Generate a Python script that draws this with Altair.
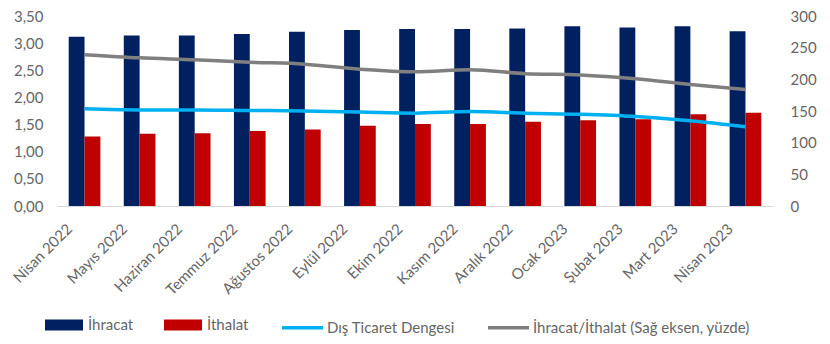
import altair as alt
import pandas as pd

months = ["Nisan 2022", "Mayıs 2022", "Haziran 2022", "Temmuz 2022", "Ağustos 2022",
          "Eylül 2022", "Ekim 2022", "Kasım 2022", "Aralık 2022", "Ocak 2023",
          "Şubat 2023", "Mart 2023", "Nisan 2023"]
ihracat = [3.12, 3.14, 3.14, 3.17, 3.21, 3.24, 3.26, 3.26, 3.27, 3.31, 3.29, 3.31, 3.22]
ithalat = [1.28, 1.33, 1.34, 1.38, 1.41, 1.48, 1.51, 1.51, 1.55, 1.58, 1.60, 1.69, 1.72]
denge = [1.79, 1.77, 1.77, 1.76, 1.75, 1.73, 1.71, 1.74, 1.71, 1.69, 1.65, 1.57, 1.46]
oran = [239, 234, 231, 227, 224, 216, 212, 215, 209, 207, 201, 192, 184]
left_ticks = [0, 0.5, 1, 1.5, 2, 2.5, 3, 3.5]
right_ticks = [0, 50, 100, 150, 200, 250, 300]

bar_names = ["İhracat", "İthalat"]
line_names = ["Dış Ticaret Dengesi", "İhracat/İthalat (Sağ eksen, yüzde)"]

bar_df = pd.DataFrame(
    [{"month": m, "series": bar_names[0], "value": v} for m, v in zip(months, ihracat)]
    + [{"month": m, "series": bar_names[1], "value": v} for m, v in zip(months, ithalat)]
)
denge_df = pd.DataFrame({"month": months, "value": denge, "series": line_names[0]})
oran_df = pd.DataFrame({"month": months, "value": oran, "series": line_names[1]})

FONT = "Lato"
TXT = "#666666"

x_axis = alt.Axis(labelAngle=-45, labelAlign="right", labelBaseline="middle",
                  labelPadding=20, labelOffset=-15, ticks=False, domainColor="#d9d9d9",
                  grid=False, labelOverlap=False)
x_scale = alt.Scale(paddingInner=0.425, paddingOuter=0.2125)

left_axis = alt.Axis(values=left_ticks, tickCount=8,
                     labelExpr="replace(format(datum.value, '.2f'), '.', ',')",
                     domain=False, ticks=False, grid=False, labelPadding=14,
                     labelOverlap=False)
left_scale = alt.Scale(domain=[0, 3.5], nice=False)

bar_legend = alt.Legend(
    orient="none", legendX=-12, legendY=290, direction="horizontal", title=None,
    symbolType="M-1,-0.29H1V0.29H-1Z", symbolSize=1444, symbolStrokeWidth=0,
    labelOffset=5, columnPadding=30, labelLimit=400,
)
line_legend = alt.Legend(
    orient="none", legendX=223, legendY=289, direction="horizontal", title=None,
    symbolType="stroke", symbolSize=1681, symbolStrokeWidth=3.5,
    labelOffset=2, columnPadding=26, labelLimit=400,
)

bars = alt.Chart(bar_df).mark_bar().encode(
    x=alt.X("month:N", sort=months, title=None, scale=x_scale, axis=x_axis),
    xOffset=alt.XOffset("series:N", sort=bar_names, scale=alt.Scale(paddingInner=0)),
    y=alt.Y("value:Q", title=None, scale=left_scale, axis=left_axis),
    color=alt.Color("series:N", scale=alt.Scale(domain=bar_names, range=["#002060", "#C00000"]),
                    legend=bar_legend),
)

stroke_scale = alt.Scale(domain=line_names, range=["#00B0F0", "#7F7F7F"])

line1 = alt.Chart(denge_df).mark_line(strokeWidth=3.5, interpolate="monotone").encode(
    x=alt.X("month:N", sort=months, title=None, scale=x_scale, axis=x_axis),
    y=alt.Y("value:Q", title=None, scale=left_scale, axis=left_axis),
    stroke=alt.Stroke("series:N", scale=stroke_scale, legend=line_legend),
)

line2 = alt.Chart(oran_df).mark_line(strokeWidth=3.5, interpolate="monotone").encode(
    x=alt.X("month:N", sort=months, title=None, scale=x_scale, axis=x_axis),
    y=alt.Y("value:Q", title=None, scale=alt.Scale(domain=[0, 300], nice=False),
            axis=alt.Axis(orient="right", values=right_ticks,
                          domain=False, ticks=False, grid=False, labelPadding=17,
                          labelOverlap=False)),
    stroke=alt.Stroke("series:N", scale=stroke_scale, legend=line_legend),
)

left = alt.layer(bars, line1)
chart = alt.layer(left, line2).resolve_scale(y="independent").properties(
    width=716, height=190,
    autosize=alt.AutoSizeParams(type="none"),
    padding={"left": 49, "top": 8, "right": 49, "bottom": 130},
).configure_view(stroke=None).configure_axis(
    labelFont=FONT, labelFontSize=15, labelColor=TXT,
).configure_legend(
    labelFont=FONT, labelFontSize=15, labelColor=TXT, padding=0,
)

chart.save("out.html", embed_options={"renderer": "svg", "actions": False})
